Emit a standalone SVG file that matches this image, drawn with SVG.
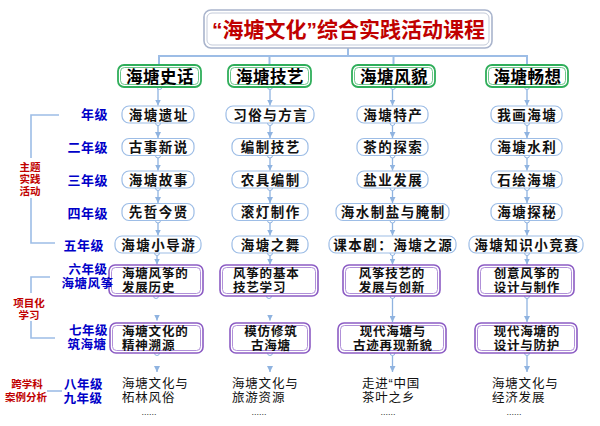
<svg xmlns="http://www.w3.org/2000/svg" width="600" height="426" viewBox="0 0 600 426">
<defs>
<marker id="ah" viewBox="0 0 6 6" refX="6" refY="3" markerWidth="6" markerHeight="6" orient="auto" markerUnits="userSpaceOnUse"><path d="M0,0 L6,3 L0,6 z" fill="#8fb3e0"/></marker>
</defs>
<style>
text{font-family:"Liberation Sans","Noto Sans CJK SC",sans-serif;}
.ttl{font-size:21px;font-weight:700;fill:#c00000;}
.ob{fill:#fff;stroke:#a9b4cc;stroke-width:1.6;}
.ib{fill:none;stroke:#c3cad9;stroke-width:1;}
.hb{fill:#fff;stroke:#2fae5a;stroke-width:1.8;}
.hi{fill:none;stroke:#5cc07e;stroke-width:0.9;}
.ht{font-size:16.5px;font-weight:700;fill:#000;text-anchor:middle;letter-spacing:0.5px;}
.bx{fill:#fff;stroke:#9dbde6;stroke-width:1.2;}
.bt{font-size:13.5px;font-weight:700;fill:#111;text-anchor:middle;letter-spacing:1.5px;}
.pb{fill:#fff;stroke:#8c5cc4;stroke-width:1.6;}
.pi{fill:none;stroke:#a783d4;stroke-width:0.9;}
.pt{font-size:12.5px;font-weight:700;fill:#111;letter-spacing:0.8px;}
.mid{text-anchor:middle;}
.ft{font-size:12.5px;fill:#111;letter-spacing:0.8px;}
.g{font-size:13px;font-weight:700;fill:#0000c8;text-anchor:end;letter-spacing:0.5px;}
.gm{font-size:12.5px;font-weight:700;fill:#0000c8;text-anchor:middle;letter-spacing:0.5px;}
.rl{font-size:10.5px;font-weight:700;fill:#c00000;text-anchor:middle;}
.ln{stroke:#9dbde6;stroke-width:2;fill:none;}
.cn{stroke:#8fb3e0;stroke-width:1.3;fill:none;marker-end:url(#ah);}
.dot{fill:#fff;stroke:#8fb3e0;stroke-width:1;}
.br{stroke:#9dbde6;stroke-width:1.6;fill:none;}
.dots{font-size:9px;fill:#333;text-anchor:middle;}
</style>
<rect width="600" height="426" fill="#fff"/>

<g id="connectors">
<path class="ln" d="M348,48 V56 M159,56 H527 M159,55 V65 M269.5,55 V65 M393.5,55 V65 M527,55 V65"/>
<!-- col1 -->
<path class="cn" d="M158,87 V105.5"/>
<path class="cn" d="M158,123 V138"/>
<path class="cn" d="M158,155.5 V170.5"/>
<path class="cn" d="M158,188 V203"/>
<path class="cn" d="M158,220.5 V235.5"/>
<path class="cn" d="M157,253 V264.5"/>
<path class="cn" d="M157,318 V320.5"/>
<path class="cn" d="M157,369 V372"/>
<!-- col2 -->
<path class="cn" d="M270,87 V105.5"/>
<path class="cn" d="M270,123 V138"/>
<path class="cn" d="M270,155.5 V170.5"/>
<path class="cn" d="M270,188 V203"/>
<path class="cn" d="M270,220.5 V235.5"/>
<path class="cn" d="M270,253 V264.5"/>
<path class="cn" d="M270,318 V320.5"/>
<path class="cn" d="M270,369 V372"/>
<!-- col3 -->
<path class="cn" d="M392.5,87 V105.5"/>
<path class="cn" d="M392.5,123 V138"/>
<path class="cn" d="M392.5,155.5 V170.5"/>
<path class="cn" d="M392.5,188 V203"/>
<path class="cn" d="M392.5,220.5 V235.5"/>
<path class="cn" d="M392.5,253 V264.5"/>
<path class="cn" d="M392.5,296 V322"/>
<path class="cn" d="M392.5,353 V372"/>
<!-- col4 -->
<path class="cn" d="M527,87 V105.5"/>
<path class="cn" d="M527,123 V138"/>
<path class="cn" d="M527,155.5 V170.5"/>
<path class="cn" d="M527,188 V203"/>
<path class="cn" d="M527,220.5 V235.5"/>
<path class="cn" d="M527,253 V264.5"/>
<path class="cn" d="M527,296 V322"/>
<path class="cn" d="M527,353 V372"/>
<!-- circles -->
<g class="dot">
<circle cx="159.5" cy="87" r="2.5"/><circle cx="270" cy="87" r="2.5"/><circle cx="393" cy="87" r="2.5"/><circle cx="527" cy="87" r="2.5"/>
<circle cx="158" cy="123" r="2.5"/><circle cx="270" cy="123" r="2.5"/><circle cx="392.5" cy="123" r="2.5"/><circle cx="527" cy="123" r="2.5"/>
<circle cx="158" cy="155.5" r="2.5"/><circle cx="270" cy="155.5" r="2.5"/><circle cx="392.5" cy="155.5" r="2.5"/><circle cx="527" cy="155.5" r="2.5"/>
<circle cx="158" cy="188" r="2.5"/><circle cx="270" cy="188" r="2.5"/><circle cx="392.5" cy="188" r="2.5"/><circle cx="527" cy="188" r="2.5"/>
<circle cx="158" cy="220.5" r="2.5"/><circle cx="270" cy="220.5" r="2.5"/><circle cx="392.5" cy="220.5" r="2.5"/><circle cx="527" cy="220.5" r="2.5"/>
<circle cx="157" cy="253" r="2.5"/><circle cx="270" cy="253" r="2.5"/><circle cx="392.5" cy="253" r="2.5"/><circle cx="527" cy="253" r="2.5"/>
<circle cx="156" cy="296" r="2.5"/><circle cx="269" cy="296" r="2.5"/><circle cx="392.5" cy="296" r="2.5"/><circle cx="527" cy="296" r="2.5"/>
<circle cx="157" cy="353" r="2.5"/><circle cx="270" cy="353" r="2.5"/><circle cx="392.5" cy="353" r="2.5"/><circle cx="527" cy="353" r="2.5"/>
</g>
</g>

<g id="title">
<rect class="ob" x="204" y="10" width="288" height="38" rx="7"/>
<rect class="ib" x="207" y="13" width="282" height="32" rx="5"/>
<text class="ttl" x="212" y="37" textLength="273" lengthAdjust="spacingAndGlyphs">“海塘文化”综合实践活动课程</text>
</g>

<g id="h1"><rect class="hb" x="118" y="65" width="83" height="22" rx="6"/><rect class="hi" x="120.5" y="67.5" width="78" height="17" rx="4"/><text class="ht" x="160" y="83">海塘史话</text></g>
<g id="h2"><rect class="hb" x="228" y="65" width="83" height="22" rx="6"/><rect class="hi" x="230.5" y="67.5" width="78" height="17" rx="4"/><text class="ht" x="270" y="83">海塘技艺</text></g>
<g id="h3"><rect class="hb" x="352" y="65" width="83" height="22" rx="6"/><rect class="hi" x="354.5" y="67.5" width="78" height="17" rx="4"/><text class="ht" x="394" y="83">海塘风貌</text></g>
<g id="h4"><rect class="hb" x="486" y="65" width="82" height="22" rx="6"/><rect class="hi" x="488.5" y="67.5" width="77" height="17" rx="4"/><text class="ht" x="527.5" y="83">海塘畅想</text></g>

<!-- row 1 -->
<g id="r1c1"><rect class="bx" x="122" y="106" width="72" height="17" rx="7"/><text class="bt" x="158.75" y="119.5">海塘遗址</text></g>
<g id="r1c2"><rect class="bx" x="226" y="106" width="88" height="17" rx="7"/><text class="bt" x="270.75" y="119.5">习俗与方言</text></g>
<g id="r1c3"><rect class="bx" x="357" y="106" width="71" height="17" rx="7"/><text class="bt" x="393.25" y="119.5">海塘特产</text></g>
<g id="r1c4"><rect class="bx" x="491" y="106" width="71" height="17" rx="7"/><text class="bt" x="527.25" y="119.5">我画海塘</text></g>
<!-- row 2 -->
<g id="r2c1"><rect class="bx" x="122" y="138.5" width="72" height="17" rx="7"/><text class="bt" x="158.75" y="152">古事新说</text></g>
<g id="r2c2"><rect class="bx" x="232" y="138.5" width="76" height="17" rx="7"/><text class="bt" x="270.75" y="152">编制技艺</text></g>
<g id="r2c3"><rect class="bx" x="357" y="138.5" width="71" height="17" rx="7"/><text class="bt" x="393.25" y="152">茶的探索</text></g>
<g id="r2c4"><rect class="bx" x="491" y="138.5" width="71" height="17" rx="7"/><text class="bt" x="527.25" y="152">海塘水利</text></g>
<!-- row 3 -->
<g id="r3c1"><rect class="bx" x="122" y="171" width="72" height="17" rx="7"/><text class="bt" x="158.75" y="184.5">海塘故事</text></g>
<g id="r3c2"><rect class="bx" x="232" y="171" width="76" height="17" rx="7"/><text class="bt" x="270.75" y="184.5">农具编制</text></g>
<g id="r3c3"><rect class="bx" x="357" y="171" width="71" height="17" rx="7"/><text class="bt" x="393.25" y="184.5">盐业发展</text></g>
<g id="r3c4"><rect class="bx" x="491" y="171" width="71" height="17" rx="7"/><text class="bt" x="527.25" y="184.5">石绘海塘</text></g>
<!-- row 4 -->
<g id="r4c1"><rect class="bx" x="122" y="203.5" width="72" height="17" rx="7"/><text class="bt" x="158.75" y="217">先哲今贤</text></g>
<g id="r4c2"><rect class="bx" x="232" y="203.5" width="76" height="17" rx="7"/><text class="bt" x="270.75" y="217">滚灯制作</text></g>
<g id="r4c3"><rect class="bx" x="336" y="203.5" width="113" height="17" rx="7"/><text class="bt" x="393.25" y="217">海水制盐与腌制</text></g>
<g id="r4c4"><rect class="bx" x="491" y="203.5" width="71" height="17" rx="7"/><text class="bt" x="527.25" y="217">海塘探秘</text></g>
<!-- row 5 -->
<g id="r5c1"><rect class="bx" x="115" y="236" width="86" height="17" rx="7"/><text class="bt" x="158.75" y="249.5">海塘小导游</text></g>
<g id="r5c2"><rect class="bx" x="232" y="236" width="76" height="17" rx="7"/><text class="bt" x="270.75" y="249.5">海塘之舞</text></g>
<g id="r5c3"><rect class="bx" x="329" y="236" width="127" height="17" rx="7"/><text class="bt" x="393.25" y="249.5">课本剧：海塘之源</text></g>
<g id="r5c4"><rect class="bx" x="469" y="236" width="114" height="17" rx="7"/><text class="bt" x="526.75" y="249.5">海塘知识小竞赛</text></g>
<!-- row 6 -->
<g id="r6c1"><rect class="pb" x="109" y="265" width="94" height="31" rx="6"/><rect class="pi" x="111.5" y="267.5" width="89" height="26" rx="4"/><text class="pt" x="122" y="277.5">海塘风筝的</text><text class="pt" x="122" y="291.5">发展历史</text></g>
<g id="r6c2"><rect class="pb" x="220" y="265" width="98" height="31" rx="6"/><rect class="pi" x="222.5" y="267.5" width="93" height="26" rx="4"/><text class="pt" x="233" y="277.5">风筝的基本</text><text class="pt" x="233" y="291.5">技艺学习</text></g>
<g id="r6c3"><rect class="pb" x="343" y="265" width="97" height="31" rx="6"/><rect class="pi" x="345.5" y="267.5" width="92" height="26" rx="4"/><text class="pt mid" x="391.9" y="277.5">风筝技艺的</text><text class="pt mid" x="391.9" y="291.5">发展与创新</text></g>
<g id="r6c4"><rect class="pb" x="478" y="265" width="96" height="31" rx="6"/><rect class="pi" x="480.5" y="267.5" width="91" height="26" rx="4"/><text class="pt mid" x="526.9" y="277.5">创意风筝的</text><text class="pt mid" x="526.9" y="291.5">设计与制作</text></g>
<!-- row 7 -->
<g id="r7c1"><rect class="pb" x="110" y="323" width="93" height="30" rx="6"/><rect class="pi" x="112.5" y="325.5" width="88" height="25" rx="4"/><text class="pt" x="122" y="335.5">海塘文化的</text><text class="pt" x="122" y="349.5">精神溯源</text></g>
<g id="r7c2"><rect class="pb" x="230" y="323" width="80" height="30" rx="6"/><rect class="pi" x="232.5" y="325.5" width="75" height="25" rx="4"/><text class="pt mid" x="270.9" y="335.5">模仿修筑</text><text class="pt mid" x="270.9" y="349.5">古海塘</text></g>
<g id="r7c3"><rect class="pb" x="338" y="323" width="108" height="30" rx="6"/><rect class="pi" x="340.5" y="325.5" width="103" height="25" rx="4"/><text class="pt mid" x="392.9" y="335.5">现代海塘与</text><text class="pt mid" x="392.9" y="349.5">古迹再现新貌</text></g>
<g id="r7c4"><rect class="pb" x="475" y="323" width="102" height="30" rx="6"/><rect class="pi" x="477.5" y="325.5" width="97" height="25" rx="4"/><text class="pt mid" x="526.9" y="335.5">现代海塘的</text><text class="pt mid" x="526.9" y="349.5">设计与防护</text></g>
<!-- row 8 -->
<g id="r8c1"><text class="ft" x="122" y="387.5">海塘文化与</text><text class="ft" x="122" y="401.5">柘林风俗</text><text class="dots" x="149" y="415">......</text></g>
<g id="r8c2"><text class="ft" x="232" y="387.5">海塘文化与</text><text class="ft" x="232" y="401.5">旅游资源</text><text class="dots" x="259" y="415">......</text></g>
<g id="r8c3"><text class="ft" x="362" y="387.5">走进“中国</text><text class="ft" x="362" y="401.5">茶叶之乡</text><text class="dots" x="388" y="415">......</text></g>
<g id="r8c4"><text class="ft" x="492" y="387.5">海塘文化与</text><text class="ft" x="492" y="401.5">经济发展</text><text class="dots" x="514" y="415">......</text></g>

<!-- left labels -->
<g id="grades">
<text class="g" x="108" y="119">年级</text>
<text class="g" x="108" y="152">二年级</text>
<text class="g" x="108" y="185">三年级</text>
<text class="g" x="108" y="218">四年级</text>
<text class="g" x="104" y="250">五年级</text>
<text class="gm" x="88" y="274">六年级</text>
<text class="gm" x="87.5" y="288">海塘风筝</text>
<text class="gm" x="88.5" y="335">七年级</text>
<text class="gm" x="87" y="349">筑海塘</text>
<text class="gm" x="83.5" y="388.5">八年级</text>
<text class="gm" x="83" y="402.5">九年级</text>
</g>
<g id="bracket1">
<path class="br" d="M59,115 H31 V243 H55"/>
<rect x="16" y="158" width="30" height="40" fill="#fff"/>
<text class="rl" x="30" y="171">主题</text><text class="rl" x="30" y="183">实践</text><text class="rl" x="30" y="195">活动</text>
</g>
<g id="bracket2">
<path class="br" d="M50,277 H31 V338 H55"/>
<rect x="8" y="293" width="46" height="28" fill="#fff"/>
<text class="rl" x="29" y="307">项目化</text><text class="rl" x="29" y="319">学习</text>
</g>
<g id="label3">
<path class="br" d="M47,391 H62"/>
<text class="rl" x="27" y="388">跨学科</text><text class="rl" x="26" y="401">案例分析</text>
</g>
</svg>
